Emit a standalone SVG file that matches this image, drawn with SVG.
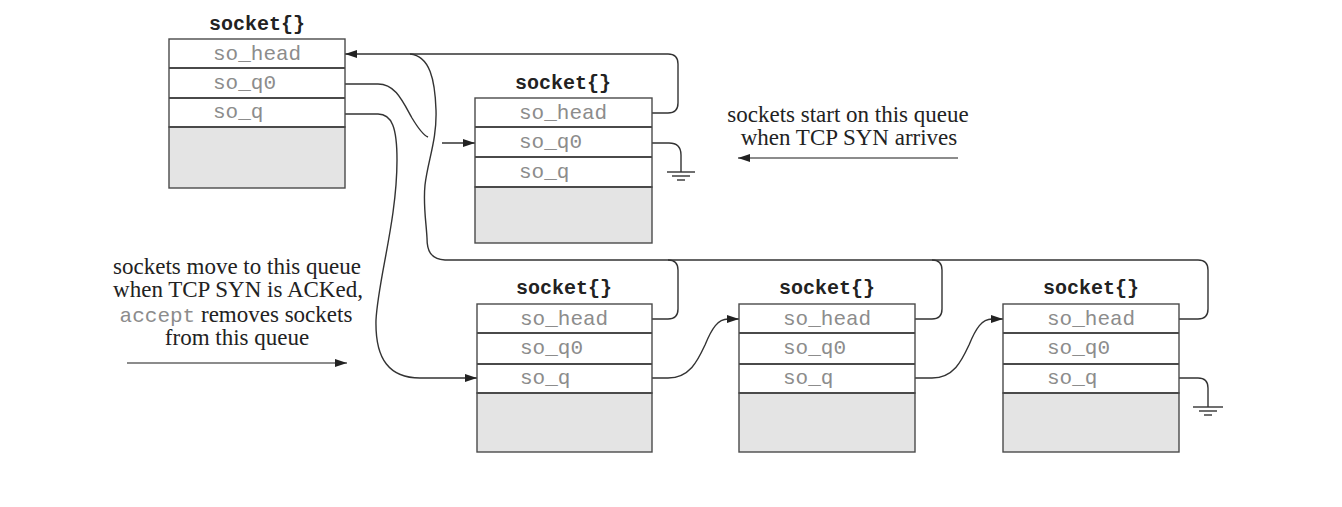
<svg xmlns="http://www.w3.org/2000/svg" width="1342" height="507" viewBox="0 0 1342 507">
<defs>
<style>
.bg{fill:#ffffff}
.row{fill:#ffffff;stroke:#4a4a4a;stroke-width:1.4}
.shade{fill:#e4e4e4;stroke:#4a4a4a;stroke-width:1.4}
.div{stroke:#4a4a4a;stroke-width:2}
.title{font-family:"Liberation Mono",monospace;font-weight:bold;font-size:20px;fill:#222;text-anchor:middle}
.field{font-family:"Liberation Mono",monospace;font-size:21px;fill:#8c8c8c}
.note{font-family:"Liberation Serif",serif;font-size:23px;fill:#222;text-anchor:middle}
.code{font-family:"Liberation Mono",monospace;fill:#8c8c8c;font-size:21px}
.wire{fill:none;stroke:#333;stroke-width:1.4}
.gap{fill:none;stroke:#fff;stroke-width:7}
.guide{fill:none;stroke:#666;stroke-width:1.6}
.gnd{stroke:#333;stroke-width:1.4}
</style>
<marker id="ah" viewBox="0 0 12 8" refX="12" refY="4" markerWidth="12" markerHeight="8" markerUnits="userSpaceOnUse" orient="auto">
<path d="M0,0 L12,4 L0,8 Z" fill="#222"/>
</marker>
</defs>
<rect class="bg" x="0" y="0" width="1342" height="507"/>

<g id="connectors">
<!-- top-left so_q0 to middle so_q0 (with gap at crossing) -->
<path class="wire" d="M330,84 H378 C395,84 402,100 412,118 C418,128 423,135 428,137"/>
<path class="wire" d="M442,143 H475" marker-end="url(#ah)"/>
<!-- top-left so_q to bottom-1 so_q -->
<path class="wire" d="M330,114 H378 C392,114 397,128 397,160 C397,220 378,280 376,320 C375,360 390,378 420,378 H477" marker-end="url(#ah)"/>
<!-- head ring -->
<path class="wire" d="M637,113 H668 Q678,113 678,103 V64 Q678,54 668,54 H345" marker-end="url(#ah)"/>
<path class="wire" d="M1163,319 H1198 Q1208,319 1208,309 V270 Q1208,260 1198,260 H445 C430,259 427,250 427,238 C426,220 423,205 425,185 C428,160 437,140 436,110 C435,80 430,56 410,54"/>
<path class="wire" d="M638,319 H668 Q678,319 678,309 V270 Q678,260 668,260"/>
<path class="wire" d="M902,319 H932 Q942,319 942,309 V270 Q942,260 932,260"/>
<!-- middle so_q0 ground -->
<path class="wire" d="M637,143 H669 Q681,143 681,155 V172"/>
<line class="gnd" x1="667" y1="172" x2="695" y2="172"/>
<line class="gnd" x1="672" y1="176" x2="690" y2="176"/>
<line class="gnd" x1="677" y1="180" x2="685" y2="180"/>
<!-- bottom so_q chain -->
<path class="wire" d="M638,378 H668 C690,378 698,360 705,345 C712,328 718,319 728,319 H739" marker-end="url(#ah)"/>
<path class="wire" d="M902,378 H932 C954,378 962,360 969,345 C976,328 982,319 992,319 H1003" marker-end="url(#ah)"/>
<path class="wire" d="M1163,378 H1198 Q1208,378 1208,388 V407"/>
<line class="gnd" x1="1193" y1="407" x2="1223" y2="407"/>
<line class="gnd" x1="1199" y1="411" x2="1217" y2="411"/>
<line class="gnd" x1="1204" y1="415" x2="1212" y2="415"/>
<!-- note arrows -->
<path class="guide" d="M958,158 H738" marker-end="url(#ah)"/>
<path class="guide" d="M127,363 H347" marker-end="url(#ah)"/>
</g>

<g id="sock-listen">
<text class="title" x="257" y="30">socket{}</text>
<rect class="shade" x="169" y="127" width="176" height="61"/>
<rect class="row" x="169" y="39" width="176" height="88"/>
<line class="div" x1="169" y1="68" x2="345" y2="68"/>
<line class="div" x1="169" y1="98" x2="345" y2="98"/>
<line class="div" x1="169" y1="127" x2="345" y2="127"/>
<text class="field" x="213" y="60">so_head</text>
<text class="field" x="213" y="89">so_q0</text>
<text class="field" x="213" y="118">so_q</text>
</g>

<g id="sock-q0">
<text class="title" x="563" y="89">socket{}</text>
<rect class="shade" x="475" y="187" width="177" height="56"/>
<rect class="row" x="475" y="98" width="177" height="89"/>
<line class="div" x1="475" y1="127" x2="652" y2="127"/>
<line class="div" x1="475" y1="157" x2="652" y2="157"/>
<line class="div" x1="475" y1="187" x2="652" y2="187"/>
<text class="field" x="519" y="119">so_head</text>
<text class="field" x="519" y="148">so_q0</text>
<text class="field" x="519" y="178">so_q</text>
</g>

<g id="sock-q1">
<text class="title" x="564" y="294">socket{}</text>
<rect class="shade" x="477" y="393" width="175" height="59"/>
<rect class="row" x="477" y="304" width="175" height="89"/>
<line class="div" x1="477" y1="333" x2="652" y2="333"/>
<line class="div" x1="477" y1="364" x2="652" y2="364"/>
<line class="div" x1="477" y1="393" x2="652" y2="393"/>
<text class="field" x="520" y="325">so_head</text>
<text class="field" x="520" y="354">so_q0</text>
<text class="field" x="520" y="384">so_q</text>
</g>

<g id="sock-q2">
<text class="title" x="827" y="294">socket{}</text>
<rect class="shade" x="739" y="393" width="176" height="59"/>
<rect class="row" x="739" y="304" width="176" height="89"/>
<line class="div" x1="739" y1="333" x2="915" y2="333"/>
<line class="div" x1="739" y1="364" x2="915" y2="364"/>
<line class="div" x1="739" y1="393" x2="915" y2="393"/>
<text class="field" x="783" y="325">so_head</text>
<text class="field" x="783" y="354">so_q0</text>
<text class="field" x="783" y="384">so_q</text>
</g>

<g id="sock-q3">
<text class="title" x="1091" y="294">socket{}</text>
<rect class="shade" x="1003" y="393" width="176" height="59"/>
<rect class="row" x="1003" y="304" width="176" height="89"/>
<line class="div" x1="1003" y1="333" x2="1179" y2="333"/>
<line class="div" x1="1003" y1="364" x2="1179" y2="364"/>
<line class="div" x1="1003" y1="393" x2="1179" y2="393"/>
<text class="field" x="1047" y="325">so_head</text>
<text class="field" x="1047" y="354">so_q0</text>
<text class="field" x="1047" y="384">so_q</text>
</g>

<g id="note-incomplete">
<text class="note" x="848" y="122">sockets start on this queue</text>
<text class="note" x="849" y="145">when TCP SYN arrives</text>
</g>

<g id="note-complete">
<text class="note" x="237" y="274">sockets move to this queue</text>
<text class="note" x="238" y="297">when TCP SYN is ACKed,</text>
<text class="note" x="236" y="322"><tspan class="code">accept</tspan> removes sockets</text>
<text class="note" x="237" y="345">from this queue</text>
</g>
</svg>
